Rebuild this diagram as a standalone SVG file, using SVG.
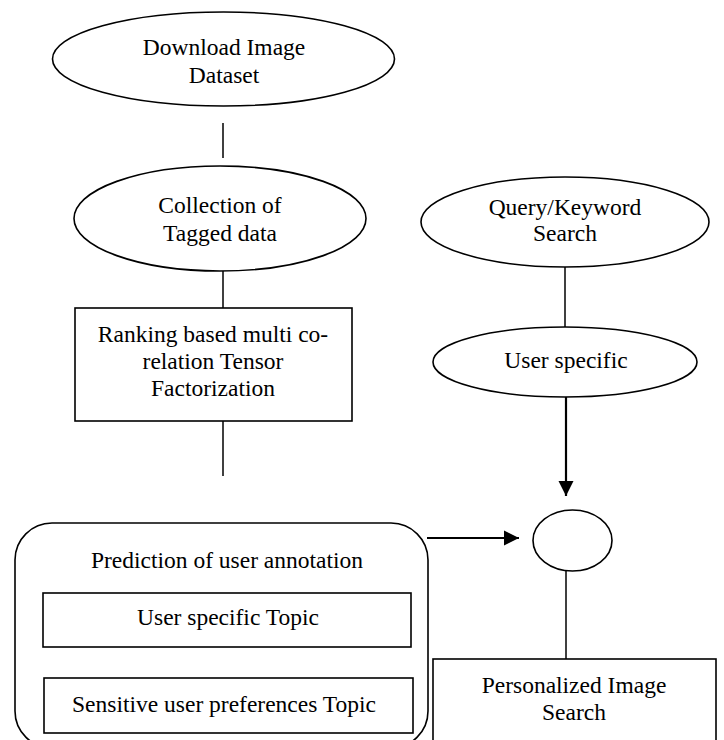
<svg xmlns="http://www.w3.org/2000/svg" width="724" height="740" viewBox="0 0 724 740">
<defs>
<style>
.s{fill:#fff;stroke:#000;stroke-width:1.6}
.t{font-family:"Liberation Serif","Times New Roman",serif;font-size:23.5px;fill:#000;text-anchor:middle}
.c{stroke:#000;stroke-width:1.5;fill:none}
.a{stroke:#000;stroke-width:2.2;fill:none}
</style>
<marker id="ah" markerWidth="8" markerHeight="8" refX="7" refY="3.5" orient="auto" markerUnits="strokeWidth">
<path d="M0,0 L7,3.5 L0,7 Z" fill="#000"/>
</marker>
</defs>
<rect width="724" height="740" fill="#fff"/>
<g id="connectors">
<line class="c" x1="223" y1="123" x2="223" y2="158"/>
<line class="c" x1="223" y1="271" x2="223" y2="308"/>
<line class="c" x1="223" y1="421" x2="223" y2="476"/>
<line class="c" x1="565" y1="267" x2="565" y2="327"/>
<line class="a" x1="566" y1="397" x2="566" y2="496" marker-end="url(#ah)"/>
<line class="a" x1="427" y1="538" x2="519" y2="538" marker-end="url(#ah)"/>
<line class="c" x1="566" y1="571" x2="566" y2="659"/>
</g>
<g id="download">
<ellipse class="s" cx="223.5" cy="59" rx="171" ry="47"/>
<text class="t" x="224" y="55">Download Image</text>
<text class="t" x="224" y="83">Dataset</text>
</g>
<g id="collection">
<ellipse class="s" cx="220" cy="218.5" rx="146" ry="52.5"/>
<text class="t" x="220" y="213">Collection of</text>
<text class="t" x="220" y="241">Tagged data</text>
</g>
<g id="ranking">
<rect class="s" x="75" y="308" width="277" height="113"/>
<text class="t" x="213" y="342">Ranking based multi co-</text>
<text class="t" x="213" y="369">relation Tensor</text>
<text class="t" x="213" y="396">Factorization</text>
</g>
<g id="query">
<ellipse class="s" cx="565" cy="222" rx="144" ry="45"/>
<text class="t" x="565" y="215">Query/Keyword</text>
<text class="t" x="565" y="241">Search</text>
</g>
<g id="userspecific">
<ellipse class="s" cx="565" cy="362" rx="132" ry="35"/>
<text class="t" x="566" y="368">User specific</text>
</g>
<g id="merge">
<ellipse class="s" cx="572.5" cy="540.5" rx="39.5" ry="30.5"/>
</g>
<g id="prediction">
<rect class="s" x="15" y="523" width="413" height="225" rx="37" ry="37"/>
<text class="t" x="227" y="568">Prediction of user annotation</text>
<rect class="s" x="43" y="593" width="368" height="54"/>
<text class="t" x="228" y="625">User specific Topic</text>
<rect class="s" x="44" y="678" width="369" height="55"/>
<text class="t" x="224" y="712">Sensitive user preferences Topic</text>
</g>
<g id="personalized">
<rect class="s" x="433" y="659" width="283" height="90"/>
<text class="t" x="574" y="693">Personalized Image</text>
<text class="t" x="574" y="720">Search</text>
</g>
</svg>
